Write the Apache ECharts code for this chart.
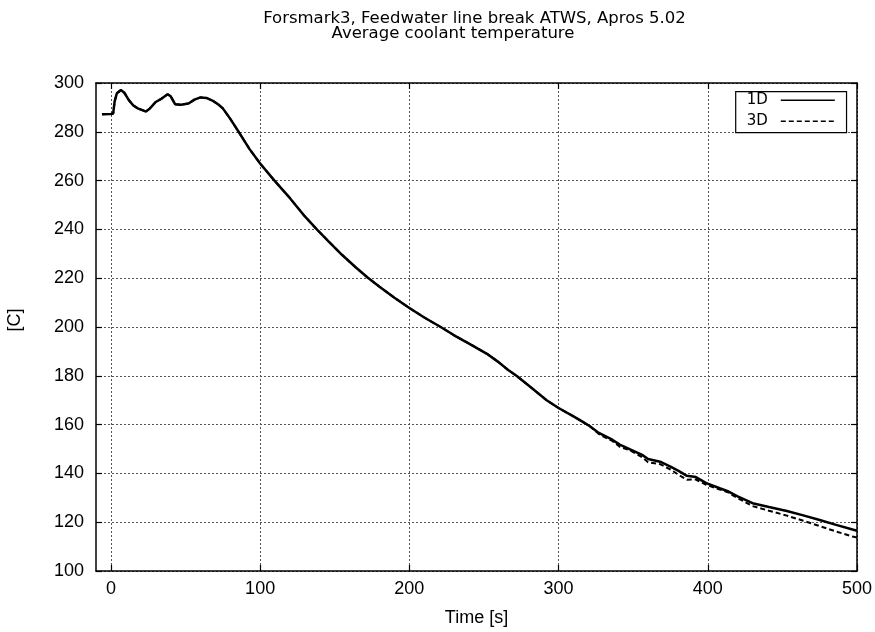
<!DOCTYPE html>
<html>
<head>
<meta charset="utf-8">
<script src="https://cdn.jsdelivr.net/npm/echarts@6/dist/echarts.min.js"></script>
<style>html,body{margin:0;padding:0;background:#fff}#c{width:875px;height:632px}</style>
</head>
<body>
<div id="c"></div>
<script>
const titleLine1 = 'Forsmark3, Feedwater line break ATWS, Apros 5.02';
const titleLine2 = 'Average coolant temperature';
const xName = 'Time [s]';
const yName = '[C]';
const xTicks = [0, 100, 200, 300, 400, 500];
const seriesNames = ['1D', '3D'];

const time = [-6, 0, 1.5, 2.5, 4, 6.7, 9, 12, 15, 18, 21, 23.5, 26, 30, 34, 38, 40, 43, 47, 52, 56, 60, 64, 68, 72, 75, 80, 86, 92.8, 100, 109.6, 120, 130, 138, 146, 155, 164, 172, 180, 190, 200, 210, 221, 230, 240, 252, 260, 266, 272, 282, 292, 300, 310, 316, 321, 327, 336, 341, 348, 356, 360, 368, 375, 381, 386, 392, 399, 408, 413, 420, 430, 441, 453, 464, 475, 486, 497, 500];

const temp1D = [287.2, 287.3, 287.5, 292.5, 295.8, 297.1, 296, 293, 290.8, 289.6, 288.9, 288.3, 289.5, 292.2, 293.6, 295.4, 294.6, 291.3, 291.1, 291.6, 293.2, 294.1, 293.9, 292.8, 291.2, 289.6, 285.3, 279.6, 273, 267, 260, 252.8, 245.3, 240, 235, 229.5, 224.5, 220.3, 216.5, 212, 207.8, 203.9, 200, 196.6, 193.2, 189, 185.5, 182.5, 179.9, 175, 170, 166.8, 163.4, 161.2, 159.3, 156.6, 153.8, 151.8, 149.8, 147.6, 145.9, 144.8, 142.8, 140.8, 139, 138.5, 136, 133.9, 132.8, 130.6, 127.8, 126.2, 124.6, 122.8, 120.9, 118.9, 117, 116.5];

const temp3D = [287.2, 287.3, 287.5, 292.5, 295.8, 297.1, 296, 293, 290.8, 289.6, 288.9, 288.3, 289.5, 292.2, 293.6, 295.4, 294.6, 291.3, 291.1, 291.6, 293.2, 294.1, 293.9, 292.8, 291.2, 289.6, 285.3, 279.6, 273, 267, 260, 252.8, 245.3, 240, 235, 229.5, 224.5, 220.3, 216.5, 212, 207.8, 203.9, 200, 196.6, 193.2, 189, 185.5, 182.5, 179.9, 175, 170, 166.8, 163.4, 161.2, 159.3, 156.1, 153.3, 150.9, 149.4, 146.6, 144.6, 143.8, 141.6, 139.2, 137.4, 137.5, 135.3, 133.4, 132.4, 129.9, 126.6, 124.7, 122.7, 120.6, 118.4, 116.2, 114.1, 113.7];

const chart = echarts.init(document.getElementById('c'), null, {renderer: 'canvas'});
const tickFont = {fontFamily: 'Liberation Sans', fontSize: 18, color: '#000'};
const splitStyle = {show: true, lineStyle: {color: '#555', width: 1, type: [2, 2]}};
const axisLineStyle = {show: true, onZero: false, lineStyle: {color: '#000', width: 1.5}};

chart.setOption({
  animation: false,
  backgroundColor: '#fff',
  graphic: [
    {type: 'text', x: 474.5, y: 19, style: {text: titleLine1, fontFamily: 'DejaVu Sans', fontSize: 16.5, fill: '#000', align: 'center', verticalAlign: 'middle'}},
    {type: 'text', x: 453, y: 33.5, style: {text: titleLine2, fontFamily: 'DejaVu Sans', fontSize: 16.5, fill: '#000', align: 'center', verticalAlign: 'middle'}}
  ],
  grid: {left: 96, right: 18, top: 83, bottom: 61, containLabel: false, outerBoundsMode: 'none'},
  legend: {
    data: seriesNames,
    orient: 'vertical',
    align: 'right',
    left: 735.7,
    top: 91.7,
    padding: [1, 11, 4, 11],
    itemWidth: 54,
    itemHeight: 13,
    itemGap: 6,
    borderColor: '#000',
    borderWidth: 1.2,
    backgroundColor: '#fff',
    lineStyle: {width: 1.5},
    itemStyle: {opacity: 0, color: 'rgba(0,0,0,0)', borderWidth: 0},
    textStyle: {fontFamily: 'DejaVu Sans', fontSize: 15, color: '#000', padding: [0, 8, 0, 0]}
  },
  xAxis: [
    {
      type: 'value', min: -10, max: 500, position: 'bottom',
      name: xName, nameLocation: 'middle', nameGap: 38,
      nameTextStyle: {fontFamily: 'Liberation Sans', fontSize: 18, color: '#000'},
      axisLine: axisLineStyle,
      axisTick: {show: true, inside: true, length: 6, customValues: xTicks, lineStyle: {color: '#000', width: 1.2}},
      axisLabel: Object.assign({show: true, margin: 9, customValues: xTicks}, tickFont),
      splitLine: splitStyle
    },
    {
      type: 'value', min: -10, max: 500, position: 'top',
      axisLine: axisLineStyle,
      axisTick: {show: true, inside: true, length: 6, customValues: xTicks, lineStyle: {color: '#000', width: 1.2}},
      axisLabel: {show: false},
      splitLine: {show: false}
    }
  ],
  yAxis: [
    {
      type: 'value', min: 100, max: 300, interval: 20, position: 'left',
      name: yName, nameLocation: 'middle', nameGap: 72, nameRotate: 90,
      nameTextStyle: {fontFamily: 'Liberation Sans', fontSize: 18, color: '#000', padding: [0, 0, 0, 14]},
      axisLine: axisLineStyle,
      axisTick: {show: true, inside: true, length: 6, lineStyle: {color: '#000', width: 1.2}},
      axisLabel: Object.assign({show: true, margin: 12}, tickFont),
      splitLine: splitStyle
    },
    {
      type: 'value', min: 100, max: 300, interval: 20, position: 'right',
      axisLine: axisLineStyle,
      axisTick: {show: true, inside: true, length: 6, lineStyle: {color: '#000', width: 1.2}},
      axisLabel: {show: false},
      splitLine: {show: false}
    }
  ],
  series: [
    {
      name: seriesNames[0], type: 'line', xAxisIndex: 0, yAxisIndex: 0,
      data: time.map((t, i) => [t, temp1D[i]]),
      symbol: 'none', smooth: false,
      lineStyle: {color: '#000', width: 2.5, type: 'solid'},
      itemStyle: {color: '#000'},
      z: 3
    },
    {
      name: seriesNames[1], type: 'line', xAxisIndex: 0, yAxisIndex: 0,
      data: time.map((t, i) => [t, temp3D[i]]),
      symbol: 'none', smooth: false,
      lineStyle: {color: '#000', width: 2, type: [5, 3]},
      itemStyle: {color: '#000'},
      z: 2
    }
  ]
});
</script>
</body>
</html>
